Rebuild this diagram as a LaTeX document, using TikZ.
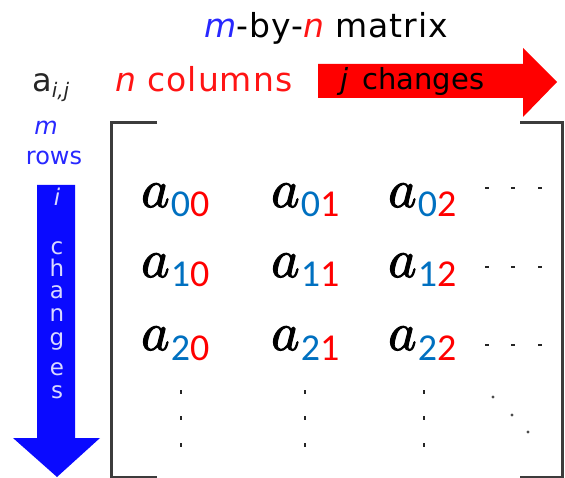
\documentclass[tikz,border=0pt]{standalone}
\usepackage{fontspec}
\setmainfont{DejaVu Sans}
\newfontfamily\subfont{Carlito}
\newfontfamily\afont{Latin Modern Math}[FakeBold=1.8]
\definecolor{tblue}{RGB}{40,40,255}
\definecolor{tred}{RGB}{255,20,20}
\definecolor{sblue}{RGB}{0,112,192}
\definecolor{sred}{RGB}{255,0,0}
\definecolor{arrblue}{RGB}{10,10,255}
\definecolor{arrred}{RGB}{255,0,0}
\definecolor{brk}{RGB}{60,60,60}
\newcommand{\ent}[2]{{\afont 𝑎}\kern1pt\raisebox{-10pt}{\subfont\fontsize{38}{40}\selectfont\textcolor{sblue}{#1}\textcolor{sred}{#2}}}
\tikzset{
  lbl/.style={inner sep=0pt, anchor=base west},
  bigtxt/.style={lbl, font=\fontsize{33}{36}\selectfont\addfontfeature{LetterSpace=3}},
  entry/.style={lbl, font=\fontsize{54}{54}\selectfont},
  vlet/.style={inner sep=0pt, anchor=base, text=white!85!blue, font=\fontsize{23}{24}\selectfont},
  bracket/.style={draw=brk, line width=3pt},
  mdot/.style={fill=black!85},
}
\begin{document}
\begin{tikzpicture}[x=1pt,y=-1pt]
\useasboundingbox (0,0) rectangle (565,478);
% title
\node[bigtxt] (title) at (204,38) {{\color{tblue}\itshape m}-by-{\color{tred}\itshape n} matrix};
% a_{i,j}
\node[lbl, text=black!85, font=\fontsize{32}{36}\selectfont] (aij) at (32,92) {a\raisebox{-6pt}{\fontsize{20}{22}\selectfont\itshape i,j}};
% n columns
\node[bigtxt, text=tred] (ncol) at (115,92) {{\itshape n} columns};
% red arrow
\fill[arrred] (318,64) -- (523,64) -- (523,48) -- (557,82) -- (523,117) -- (523,98) -- (318,98) -- cycle;
\node[lbl, font=\fontsize{29}{32}\selectfont] (jch) at (340,90) {{\itshape j}\, changes};
% m rows
\node[inner sep=0pt, anchor=base, text=tblue, font=\fontsize{24}{26}\selectfont\itshape] (mlab) at (46,135) {m};
\node[inner sep=0pt, anchor=base, text=tblue, font=\fontsize{24}{26}\selectfont] (rows) at (54,165) {rows};
% blue arrow
\fill[arrblue] (37,185) -- (75,185) -- (75,438) -- (100,438) -- (57,477) -- (13,438) -- (37,438) -- cycle;
\node[vlet, font=\fontsize{23}{24}\selectfont\itshape] (li) at (57,206) {i};
\node[vlet] (lc) at (57,255) {c};
\node[vlet] (lh) at (57,277) {h};
\node[vlet] (la) at (57,299) {a};
\node[vlet] (ln) at (57,322) {n};
\node[vlet] (lg) at (57,345) {g};
\node[vlet] (le) at (57,375) {e};
\node[vlet] (ls) at (57,398) {s};
% brackets
\draw[bracket] (157,123) -- (111,123) -- (111,477) -- (157,477);
\draw[bracket] (520,123) -- (562,123) -- (562,477) -- (520,477);
% entries
\node[entry] (a00) at (141,207) {\ent00};
\node[entry] (a01) at (271,207) {\ent01};
\node[entry] (a02) at (388,207) {\ent02};
\node[entry] (a10) at (141,277) {\ent10};
\node[entry] (a11) at (271,277) {\ent11};
\node[entry] (a12) at (388,277) {\ent12};
\node[entry] (a20) at (141,350) {\ent20};
\node[entry] (a21) at (271,350) {\ent21};
\node[entry] (a22) at (388,350) {\ent22};
% dots
\foreach \y in {188,267,345}{
  \foreach \x in {487,513,540}{
    \fill[mdot] (\x-2,\y-1.3) rectangle (\x+2,\y+1.3);
  }
}
\foreach \x in {181,305,424}{
  \foreach \y in {392,418,445}{
    \fill[mdot] (\x-1.4,\y-2) rectangle (\x+1.4,\y+2);
  }
}
\foreach \x/\y in {493/397,512/415,528/432}{
  \fill[black!70] (\x,\y) circle (1.6);
}
\end{tikzpicture}
\end{document}
